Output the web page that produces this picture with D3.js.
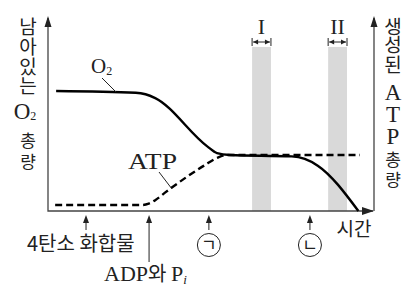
<!DOCTYPE html>
<html>
<head>
<meta charset="utf-8">
<script src="https://cdn.jsdelivr.net/npm/d3@7"></script>
<style>
  body { margin: 0; background: #fff; }
  svg { display: block; }
</style>
</head>
<body>
<div id="chart"></div>
<script>
// time runs 0..100 along the x axis, amounts 0..100 up the y axis
const o2Time = [2.5, 27, 30, 33, 49, 52, 56, 75, 79, 83, 95.5]
const o2Level = [62.2, 61.3, 60.5, 58.5, 33.5, 30, 29, 28.3, 27, 23.5, 0]

const atpTime = [2.2, 29, 31, 33, 36, 48, 52, 55, 96]
const atpLevel = [3.1, 3.1, 3.8, 5.6, 9.5, 23.5, 27.5, 29, 29]

const bandNames = ['I', 'II']
const bandStart = [62.8, 86.2]
const bandEnd = [68.6, 92]
const bandTop = 85

const markerTime = [11.7, 31.1, 49.5, 80.6]

const width = 412
const height = 286
const sans = "'Noto Sans CJK KR', 'Noto Sans', sans-serif"
const serif = "'Liberation Serif', 'DejaVu Serif', serif"
const ink = '#222'
const axisInk = '#444'

const x = d3.scaleLinear().domain([0, 100]).range([48, 373])
const y = d3.scaleLinear().domain([0, 100]).range([211, 18])

const svg = d3.select('#chart').append('svg')
    .attr('width', width)
    .attr('height', height)

// gray bands I, II
const bands = bandNames.map((n, i) => ({ name: n, x0: bandStart[i], x1: bandEnd[i] }))
svg.selectAll('rect.band')
    .data(bands)
    .enter().append('rect')
    .attr('class', 'band')
    .attr('x', (d) => x(d.x0))
    .attr('y', y(bandTop))
    .attr('width', (d) => x(d.x1) - x(d.x0))
    .attr('height', y(0) - y(bandTop))
    .attr('fill', '#d9d9d9')

// band labels with double arrows
const bandG = svg.selectAll('g.bandlabel')
    .data(bands)
    .enter().append('g')
    .attr('class', 'bandlabel')
bandG.append('text')
    .attr('x', (d) => (x(d.x0) + x(d.x1)) / 2)
    .attr('y', 34)
    .attr('text-anchor', 'middle')
    .attr('font-family', serif)
    .attr('font-size', 22)
    .attr('fill', ink)
    .text((d) => d.name)
bandG.append('path')
    .attr('d', (d) => {
        const a = x(d.x0), b = x(d.x1), m = 42
        return 'M' + a + ',' + (m - 4) + 'V' + (m + 4) +
            'M' + b + ',' + (m - 4) + 'V' + (m + 4) +
            'M' + (a + 1) + ',' + m + 'H' + (b - 1)
    })
    .attr('stroke', ink)
    .attr('stroke-width', 1)
    .attr('fill', 'none')
bandG.append('path')
    .attr('d', (d) => {
        const a = x(d.x0) + 1, b = x(d.x1) - 1, m = 42
        return 'M' + a + ',' + m + 'l5,-2.5v5z' +
            'M' + b + ',' + m + 'l-5,-2.5v5z'
    })
    .attr('fill', ink)

// axes
svg.append('path')
    .attr('d', 'M' + x(0) + ',' + y(100) + 'V' + y(0) + 'H' + x(100) +
        'M' + (x(100) + 1) + ',' + y(0) + 'V' + y(100))
    .attr('stroke', axisInk)
    .attr('stroke-width', 1.3)
    .attr('fill', 'none')
svg.append('path')
    .attr('d',
        'M' + x(0) + ',' + (y(100) - 2) + 'l-3.5,11h7z' +
        'M' + (x(100) + 1) + ',' + (y(100) - 2) + 'l-3.5,11h7z' +
        'M' + (x(100) + 1) + ',' + y(0) + 'l-12,-4v8z')
    .attr('fill', ink)

// curves
const line = d3.line()
    .x((d) => x(d[0]))
    .y((d) => y(d[1]))
    .curve(d3.curveMonotoneX)

svg.append('path')
    .datum(o2Time.map((t, i) => [t, o2Level[i]]))
    .attr('d', line)
    .attr('fill', 'none')
    .attr('stroke', '#000')
    .attr('stroke-width', 2.4)

svg.append('path')
    .datum(atpTime.map((t, i) => [t, atpLevel[i]]))
    .attr('d', line)
    .attr('fill', 'none')
    .attr('stroke', '#000')
    .attr('stroke-width', 2.4)
    .attr('stroke-dasharray', '7,4')

// curve labels and leaders
svg.append('text')
    .attr('x', 91)
    .attr('y', 73)
    .attr('font-family', serif)
    .attr('font-size', 21)
    .attr('fill', ink)
    .text('O')
    .append('tspan')
    .attr('font-size', 12)
    .attr('dy', 2)
    .text('2')
svg.append('line')
    .attr('x1', 102).attr('y1', 78)
    .attr('x2', 116).attr('y2', 92)
    .attr('stroke', ink).attr('stroke-width', 1)

svg.append('text')
    .attr('x', 128)
    .attr('y', 169)
    .attr('font-family', serif)
    .attr('font-size', 23)
    .attr('textLength', 49)
    .attr('lengthAdjust', 'spacingAndGlyphs')
    .attr('fill', ink)
    .text('ATP')
svg.append('line')
    .attr('x1', 159).attr('y1', 172)
    .attr('x2', 172).attr('y2', 189)
    .attr('stroke', ink).attr('stroke-width', 1)

// markers under the time axis
svg.selectAll('line.marker')
    .data(markerTime)
    .enter().append('line')
    .attr('class', 'marker')
    .attr('x1', (d) => x(d))
    .attr('x2', (d) => x(d))
    .attr('y1', 219)
    .attr('y2', (d, i) => i === 1 ? 262 : 230)
    .attr('stroke', ink)
    .attr('stroke-width', 1)
svg.selectAll('path.marker')
    .data(markerTime)
    .enter().append('path')
    .attr('class', 'marker')
    .attr('d', (d) => 'M' + x(d) + ',215l-3,8h6z')
    .attr('fill', ink)

svg.append('text')
    .attr('x', 27)
    .attr('y', 251)
    .attr('font-family', sans)
    .attr('font-size', 20)
    .attr('fill', ink)
    .text('4탄소 화합물')

const adp = svg.append('text')
    .attr('x', 104)
    .attr('y', 281)
    .attr('font-family', serif)
    .attr('font-size', 22)
    .attr('fill', ink)
adp.append('tspan').text('ADP')
adp.append('tspan').attr('font-family', sans).attr('font-size', 20).text('와 ')
adp.append('tspan').text('P')
adp.append('tspan').attr('font-size', 13).attr('font-style', 'italic').attr('dy', 3).text('i')

const circled = [{ t: markerTime[2], s: 'ㄱ' }, { t: markerTime[3], s: 'ㄴ' }]
svg.selectAll('circle.mark')
    .data(circled)
    .enter().append('circle')
    .attr('class', 'mark')
    .attr('cx', (d) => x(d.t))
    .attr('cy', 245)
    .attr('r', 11.5)
    .attr('fill', 'none')
    .attr('stroke', ink)
    .attr('stroke-width', 1)
svg.selectAll('text.mark')
    .data(circled)
    .enter().append('text')
    .attr('class', 'mark')
    .attr('x', (d) => x(d.t))
    .attr('y', 245)
    .attr('dy', '0.36em')
    .attr('text-anchor', 'middle')
    .attr('font-family', sans)
    .attr('font-size', 17)
    .attr('fill', ink)
    .text((d) => d.s)

svg.append('text')
    .attr('x', 354)
    .attr('y', 236)
    .attr('text-anchor', 'middle')
    .attr('font-family', sans)
    .attr('font-size', 19)
    .attr('fill', ink)
    .text('시간')

// vertical axis titles, one glyph per row, drawn as one text each
const leftTitle = [
    { s: '남', y: 27.5 }, { s: '아', y: 47 }, { s: '있', y: 67 }, { s: '는', y: 86 },
    { s: 'O', y: 111, serif: true, sub: '2' }, { s: '총', y: 141, small: true }, { s: '량', y: 162, small: true }
]
const rightTitle = [
    { s: '생', y: 27.5 }, { s: '성', y: 45 }, { s: '된', y: 65 },
    { s: 'A', y: 92, serif: true }, { s: 'T', y: 114, serif: true }, { s: 'P', y: 136, serif: true },
    { s: '총', y: 160, small: true }, { s: '량', y: 180, small: true }
]

function drawTitle(items, cx) {
    const t = svg.append('text')
        .attr('text-anchor', 'middle')
        .attr('fill', ink)
    items.forEach((d) => {
        t.append('tspan')
            .attr('x', d.sub ? cx - 3 : cx)
            .attr('y', d.y)
            .attr('dy', '0.36em')
            .attr('font-family', d.serif ? serif : sans)
            .attr('font-size', d.serif ? 23 : d.small ? 17 : 19)
            .text(d.s)
        if (d.sub) {
            t.append('tspan')
                .attr('font-family', serif)
                .attr('font-size', 12)
                .attr('dy', '0.1em')
                .text(d.sub)
        }
    })
}
drawTitle(leftTitle, 28)
drawTitle(rightTitle, 393)
</script>
</body>
</html>
